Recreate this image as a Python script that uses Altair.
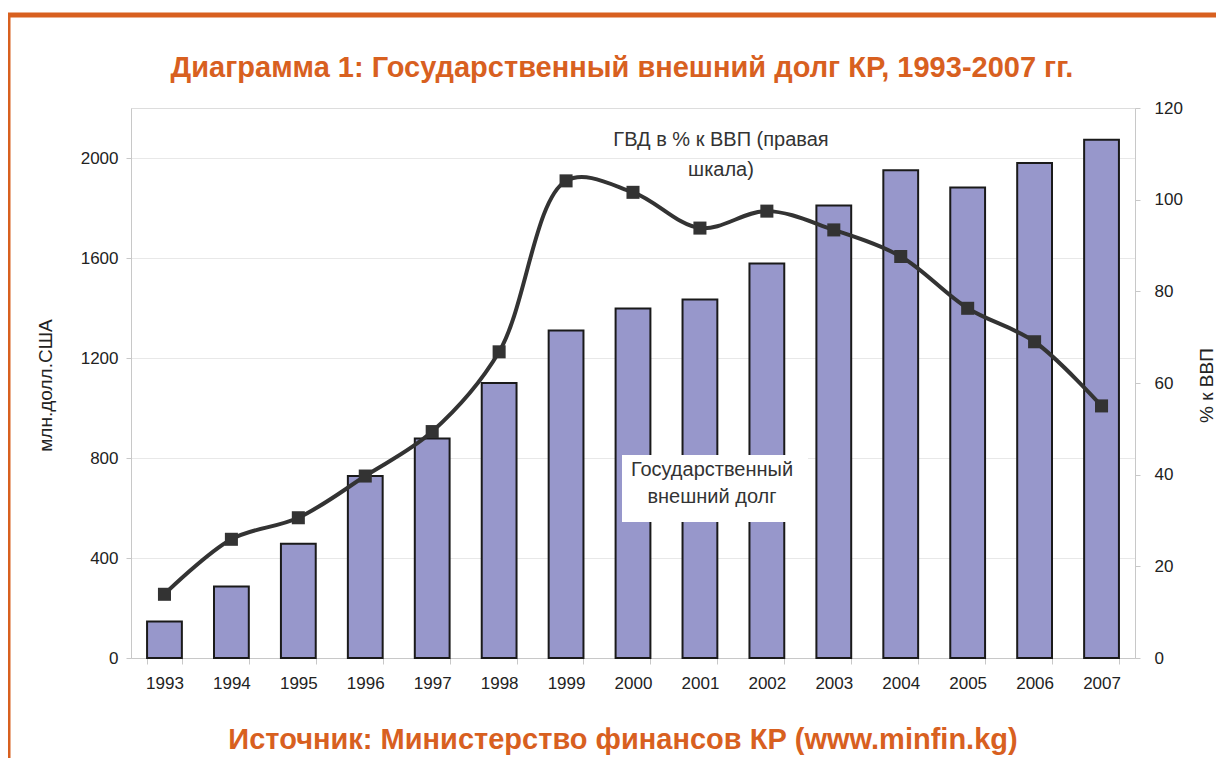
import altair as alt
import pandas as pd

years = [str(y) for y in range(1993, 2008)]
debt = [146, 286, 457, 728, 878, 1100, 1310, 1398, 1434, 1578, 1810, 1951, 1882, 1980, 2073]
pct_gdp = [13.9, 25.9, 30.6, 39.7, 49.4, 66.8, 104.1, 101.6, 93.8, 97.5, 93.4, 87.6, 76.3, 69.0, 55.0]

left_ticks = [0, 400, 800, 1200, 1600, 2000]
right_ticks = [0, 20, 40, 60, 80, 100, 120]

title_text = "Диаграмма 1: Государственный внешний долг КР, 1993-2007 гг."
source_text = "Источник: Министерство финансов КР (www.minfin.kg)"
line_label = ["ГВД в % к ВВП (правая", "шкала)"]
bar_label = ["Государственный", "внешний долг"]

df = pd.DataFrame({"year": years, "debt": debt, "pct": pct_gdp})
one = pd.DataFrame({"k": [0]})

FONT = "Liberation Sans, Arial, sans-serif"
ORANGE = "#D8601F"
W, H = 1004, 550

xenc = alt.X(
    "year:N",
    sort=years,
    scale=alt.Scale(paddingInner=0.48, paddingOuter=0.24),
    axis=alt.Axis(
        title=None, labelAngle=0, labelFont=FONT, labelFontSize=17, labelColor="#222",
        tickBand="extent", tickSize=6, tickColor="#c8c8c8", domainColor="#c8c8c8",
        labelPadding=11, grid=False,
    ),
)

bars = alt.Chart(df).mark_bar(color="#9797CB", stroke="#1a1a1a", strokeWidth=2).encode(
    x=xenc,
    y=alt.Y(
        "debt:Q",
        scale=alt.Scale(domain=[0, 2200], nice=False),
        axis=alt.Axis(
            title="млн.долл.США", values=left_ticks, format="d", labelFont=FONT,
            labelFontSize=17, labelColor="#222", titleFont=FONT, titleFontSize=19,
            titleFontWeight="normal", titleColor="#222", tickSize=5, tickColor="#c8c8c8",
            domainColor="#c8c8c8", labelPadding=8, grid=True, gridColor="#e8e8e8",
            titleX=-86, titleY=277, titleAngle=270, titleAlign="center",
            titleBaseline="middle",
        ),
    ),
)

box = alt.Chart(one).mark_rect(fill="white").encode(
    x=alt.value(491), x2=alt.value(677), y=alt.value(347), y2=alt.value(414)
)

bar_txt = alt.Chart(one).mark_text(
    text=bar_label, font=FONT, fontSize=20, color="#333", lineHeight=27, baseline="middle"
).encode(x=alt.value(581), y=alt.value(362))

line_txt = alt.Chart(one).mark_text(
    text=line_label, font=FONT, fontSize=20, color="#333", lineHeight=30, baseline="middle"
).encode(x=alt.value(590), y=alt.value(32))

line = alt.Chart(df).mark_line(
    color="#333", strokeWidth=4, interpolate="catmull-rom",
    point=alt.OverlayMarkDef(shape="square", size=170, filled=True, color="#333", opacity=1),
).encode(
    x=xenc,
    y=alt.Y(
        "pct:Q",
        scale=alt.Scale(domain=[0, 120], nice=False),
        axis=alt.Axis(
            orient="right", title="% к ВВП", values=right_ticks, format="d", labelFont=FONT,
            labelFontSize=17, labelColor="#222", titleFont=FONT, titleFontSize=19,
            titleFontWeight="normal", titleColor="#222", tickSize=5, tickColor="#c8c8c8",
            domainColor="#c8c8c8", labelPadding=14, grid=False, titleX=71, titleY=277,
            titleAngle=270, titleAlign="center", titleBaseline="middle",
        ),
    ),
)

title = alt.Chart(one).mark_text(
    text=title_text, font=FONT, fontSize=29, fontWeight="bold", color=ORANGE, baseline="middle"
).encode(x=alt.value(491), y=alt.value(-40))

source = alt.Chart(one).mark_text(
    text=source_text, font=FONT, fontSize=29, fontWeight="bold", color=ORANGE, baseline="middle"
).encode(x=alt.value(492), y=alt.value(632))

frame_top = alt.Chart(one).mark_rule(color=ORANGE, strokeWidth=5).encode(
    x=alt.value(-125), x2=alt.value(1100), y=alt.value(-93)
)
frame_left = alt.Chart(one).mark_rule(color=ORANGE, strokeWidth=5).encode(
    x=alt.value(-123), y=alt.value(-95), y2=alt.value(700)
)

chart = alt.layer(
    bars, box, bar_txt, line_txt, line, title, source, frame_top, frame_left
).resolve_scale(y="independent").properties(
    width=W, height=H,
    autosize=alt.AutoSizeParams(type="none"),
    padding={"left": 123, "top": 100, "right": 81, "bottom": 100},
).configure_view(stroke=None).configure(background="white")

chart.save("out.html", embed_options={"renderer": "svg", "actions": False})
